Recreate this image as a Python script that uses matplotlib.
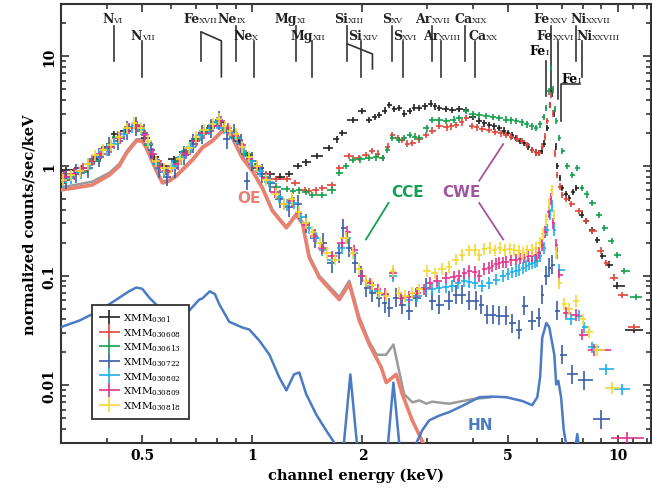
import numpy as np
import matplotlib
matplotlib.use('Agg')
import matplotlib.pyplot as plt
import matplotlib.transforms as mtransforms
from matplotlib.ticker import FixedLocator, FixedFormatter, NullFormatter
from matplotlib.container import ErrorbarContainer
from matplotlib.legend_handler import HandlerErrorbar

plt.rcParams['font.family'] = 'DejaVu Serif'
plt.rcParams['mathtext.fontset'] = 'dejavuserif'

# ---- spectra: (channel energy keV, normalized counts/sec/keV) ----
xmm0301 = [(0.31, 0.92), (0.34, 0.95), (0.37, 1.15), (0.40, 1.5), (0.42, 1.95), (0.45, 2.1), (0.48, 2.3),
           (0.51, 1.8), (0.54, 1.2), (0.57, 1.0), (0.61, 1.15), (0.65, 1.35), (0.69, 1.7), (0.73, 2.0),
           (0.77, 2.3), (0.82, 2.5), (0.87, 2.1), (0.92, 1.7), (0.97, 1.25), (1.04, 0.96), (1.12, 0.84),
           (1.19, 0.80), (1.26, 0.85), (1.33, 1.0), (1.40, 1.08), (1.50, 1.23), (1.62, 1.46), (1.70, 1.75),
           (1.76, 2.0), (1.88, 2.62), (2.0, 3.16), (2.09, 2.62), (2.16, 2.8), (2.22, 2.91), (2.30, 3.2),
           (2.37, 3.58), (2.44, 3.3), (2.52, 3.37), (2.60, 3.0), (2.69, 3.16), (2.77, 3.4), (2.86, 3.37),
           (2.96, 3.5), (3.07, 3.7), (3.16, 3.5), (3.24, 3.37), (3.38, 3.3), (3.52, 3.23), (3.68, 3.3),
           (3.84, 3.23), (4.0, 2.8), (4.17, 2.56), (4.30, 2.45), (4.44, 2.36), (4.58, 2.3), (4.73, 2.22),
           (4.87, 2.1), (5.0, 2.0), (5.13, 1.9), (5.26, 1.80), (5.40, 1.7), (5.54, 1.62), (5.68, 1.5),
           (5.82, 1.40), (5.95, 1.33), (6.08, 1.31), (6.18, 1.38), (6.28, 1.6), (6.40, 2.22), (6.50, 3.6),
           (6.58, 4.6), (6.66, 3.0), (6.74, 1.5), (6.82, 1.0), (6.92, 0.78), (7.03, 0.63), (7.20, 0.55),
           (7.35, 0.51), (7.52, 0.58), (7.68, 0.63), (7.97, 0.36), (8.18, 0.316), (8.49, 0.26),
           (8.76, 0.212), (9.04, 0.152), (9.45, 0.126), (9.9, 0.081), (11.06, 0.032)]

xmm030608 = [(0.31, 0.85), (0.34, 0.9), (0.37, 1.1), (0.40, 1.45), (0.43, 1.8), (0.46, 2.2), (0.49, 2.25),
             (0.52, 1.6), (0.55, 1.1), (0.58, 0.9), (0.62, 1.1), (0.66, 1.35), (0.70, 1.75), (0.75, 2.1),
             (0.80, 2.45), (0.85, 2.2), (0.90, 1.85), (0.96, 1.3), (1.02, 1.0), (1.09, 0.85), (1.16, 0.76),
             (1.24, 0.76), (1.31, 0.7), (1.39, 0.605), (1.43, 0.593), (1.49, 0.60), (1.55, 0.63),
             (1.65, 0.672), (1.73, 0.96), (1.84, 1.23), (1.96, 1.18), (2.04, 1.25), (2.13, 1.37),
             (2.20, 1.3), (2.27, 1.18), (2.35, 1.5), (2.41, 1.91), (2.50, 1.8), (2.57, 1.72), (2.65, 1.6),
             (2.74, 1.62), (2.85, 1.75), (2.99, 1.91), (3.1, 2.1), (3.24, 2.31), (3.4, 2.25), (3.5, 2.3),
             (3.61, 2.36), (3.75, 2.5), (3.84, 2.73), (3.99, 2.31), (4.1, 2.25), (4.25, 2.18), (4.44, 2.12),
             (4.6, 2.05), (4.77, 1.98), (4.94, 1.91), (5.1, 1.85), (5.28, 1.78), (5.47, 1.69), (5.65, 1.55),
             (5.82, 1.40), (5.95, 1.33), (6.08, 1.31), (6.2, 1.5), (6.30, 1.85), (6.40, 2.56), (6.50, 3.6),
             (6.56, 4.42), (6.64, 3.0), (6.72, 1.3), (6.80, 0.83), (6.92, 0.65), (7.03, 0.545), (7.2, 0.5),
             (7.44, 0.45), (7.82, 0.39), (8.18, 0.316), (8.49, 0.256), (8.99, 0.169), (9.27, 0.131),
             (9.75, 0.096), (10.25, 0.067), (11.06, 0.034)]

xmm030613 = [(0.31, 0.8), (0.34, 0.88), (0.37, 1.12), (0.40, 1.5), (0.43, 1.85), (0.46, 2.25), (0.49, 2.2),
             (0.52, 1.55), (0.55, 1.05), (0.58, 0.88), (0.62, 1.12), (0.66, 1.38), (0.70, 1.75), (0.75, 2.1),
             (0.80, 2.5), (0.85, 2.15), (0.90, 1.8), (0.96, 1.28), (1.02, 1.0), (1.09, 0.8), (1.16, 0.65),
             (1.24, 0.62), (1.29, 0.593), (1.34, 0.6), (1.40, 0.58), (1.46, 0.545), (1.55, 0.545),
             (1.65, 0.6), (1.73, 0.864), (1.80, 1.0), (1.88, 1.13), (1.97, 1.15), (2.09, 1.18), (2.18, 1.2),
             (2.27, 1.18), (2.34, 1.4), (2.41, 1.80), (2.52, 1.72), (2.60, 1.8), (2.69, 1.91), (2.78, 1.85),
             (2.86, 1.80), (3.0, 2.2), (3.1, 2.62), (3.24, 2.6), (3.39, 2.56), (3.55, 2.65), (3.68, 2.73),
             (3.84, 3.16), (4.0, 2.95), (4.17, 2.91), (4.35, 2.85), (4.55, 2.8), (4.73, 2.73), (4.95, 2.65),
             (5.1, 2.6), (5.26, 2.56), (5.45, 2.5), (5.62, 2.4), (5.8, 2.3), (5.97, 2.22), (6.12, 2.4),
             (6.25, 2.8), (6.36, 3.37), (6.45, 4.8), (6.56, 7.8), (6.64, 5.0), (6.72, 3.3), (6.77, 2.56),
             (6.9, 1.8), (7.03, 1.37), (7.25, 1.0), (7.49, 0.83), (7.73, 0.96), (7.97, 0.63), (8.2, 0.55),
             (8.49, 0.46), (8.88, 0.358), (9.15, 0.273), (9.63, 0.208), (9.9, 0.155), (10.4, 0.11),
             (11.2, 0.064)]

xmm030722 = [(0.31, 0.75), (0.33, 0.85), (0.355, 0.95), (0.38, 1.2), (0.405, 1.5), (0.43, 1.7), (0.455, 2.1),
             (0.48, 2.3), (0.505, 2.0), (0.53, 1.4), (0.555, 0.95), (0.585, 0.8), (0.615, 0.95), (0.65, 1.25),
             (0.69, 1.6), (0.73, 1.95), (0.77, 2.2), (0.81, 2.6), (0.85, 1.75), (0.89, 2.0), (0.93, 1.6),
             (0.97, 0.73), (1.0, 1.1), (1.06, 0.85), (1.12, 0.7), (1.19, 0.5), (1.26, 0.42), (1.33, 0.45),
             (1.40, 0.3), (1.48, 0.22), (1.56, 0.2), (1.65, 0.13), (1.72, 0.16), (1.77, 0.27), (1.84, 0.18),
             (1.91, 0.13), (1.98, 0.1), (2.05, 0.078), (2.13, 0.07), (2.22, 0.063), (2.30, 0.056),
             (2.37, 0.0512), (2.47, 0.063), (2.57, 0.0545), (2.685, 0.048), (2.81, 0.063), (2.99, 0.078),
             (3.10, 0.059), (3.24, 0.0545), (3.45, 0.059), (3.61, 0.067), (3.75, 0.067), (3.92, 0.059),
             (4.09, 0.059), (4.22, 0.0545), (4.39, 0.044), (4.56, 0.044), (4.73, 0.043), (4.94, 0.043),
             (5.13, 0.037), (5.37, 0.032), (5.54, 0.053), (5.82, 0.039), (6.08, 0.0415), (6.2, 0.067),
             (6.36, 0.10), (6.48, 0.118), (6.60, 0.126), (6.81, 0.048), (7.03, 0.019), (7.49, 0.0126),
             (8.08, 0.0111), (8.99, 0.0049)]

xmm030802 = [(0.303, 0.72), (0.32, 0.78), (0.34, 0.86), (0.36, 1.05), (0.38, 1.25), (0.40, 1.4), (0.42, 1.6),
             (0.445, 1.95), (0.47, 2.25), (0.495, 2.15), (0.52, 1.6), (0.545, 1.05), (0.575, 0.88),
             (0.605, 1.0), (0.64, 1.2), (0.68, 1.5), (0.72, 1.9), (0.76, 2.15), (0.80, 2.45), (0.835, 2.2),
             (0.87, 2.0), (0.91, 1.8), (0.95, 1.35), (0.99, 1.1), (1.05, 0.9), (1.11, 0.72), (1.18, 0.52),
             (1.24, 0.44), (1.30, 0.46), (1.36, 0.34), (1.43, 0.27), (1.49, 0.22), (1.55, 0.17), (1.65, 0.14),
             (1.76, 0.18), (1.82, 0.22), (1.9, 0.16), (2.0, 0.1), (2.1, 0.08), (2.2, 0.072), (2.3, 0.066),
             (2.43, 0.1), (2.55, 0.062), (2.68, 0.06), (2.82, 0.065), (2.99, 0.075), (3.1, 0.076),
             (3.24, 0.078), (3.38, 0.079), (3.52, 0.081), (3.66, 0.085), (3.8, 0.09), (3.92, 0.088),
             (4.05, 0.085), (4.25, 0.081), (4.44, 0.086), (4.64, 0.092), (4.85, 0.1), (5.0, 0.103),
             (5.13, 0.107), (5.25, 0.11), (5.37, 0.113), (5.5, 0.118), (5.61, 0.123), (5.72, 0.127),
             (5.82, 0.131), (5.92, 0.134), (6.01, 0.137), (6.12, 0.15), (6.28, 0.18), (6.4, 0.26), (6.5, 0.36),
             (6.6, 0.43), (6.69, 0.26), (6.8, 0.16), (6.9, 0.113), (7.44, 0.040), (7.82, 0.0433),
             (8.08, 0.0337), (8.49, 0.0222), (9.27, 0.014), (10.25, 0.0092)]

xmm030809 = [(0.305, 0.8), (0.325, 0.85), (0.345, 0.95), (0.365, 1.12), (0.385, 1.3), (0.41, 1.5), (0.435, 1.8),
             (0.46, 2.2), (0.485, 2.3), (0.51, 1.9), (0.535, 1.3), (0.56, 0.98), (0.59, 0.9), (0.625, 1.05),
             (0.66, 1.3), (0.70, 1.7), (0.74, 2.0), (0.78, 2.3), (0.82, 2.55), (0.86, 2.2), (0.90, 1.9),
             (0.94, 1.55), (0.98, 1.15), (1.03, 0.98), (1.09, 0.78), (1.15, 0.58), (1.22, 0.45), (1.28, 0.48),
             (1.34, 0.37), (1.40, 0.29), (1.47, 0.23), (1.55, 0.18), (1.65, 0.15), (1.76, 0.2), (1.82, 0.25),
             (1.9, 0.17), (2.0, 0.1), (2.1, 0.085), (2.2, 0.075), (2.3, 0.068), (2.43, 0.105), (2.55, 0.063),
             (2.68, 0.064), (2.82, 0.07), (2.95, 0.075), (3.05, 0.086), (3.2, 0.09), (3.39, 0.096),
             (3.55, 0.098), (3.68, 0.10), (3.8, 0.105), (3.92, 0.111), (4.05, 0.108), (4.17, 0.10),
             (4.3, 0.115), (4.44, 0.118), (4.53, 0.123), (4.64, 0.128), (4.73, 0.131), (4.85, 0.132),
             (4.94, 0.133), (5.1, 0.138), (5.26, 0.14), (5.4, 0.143), (5.54, 0.146), (5.68, 0.15),
             (5.82, 0.152), (5.95, 0.155), (6.08, 0.162), (6.2, 0.19), (6.32, 0.25), (6.45, 0.38), (6.55, 0.5),
             (6.65, 0.3), (6.77, 0.19), (6.9, 0.102), (7.21, 0.046), (7.68, 0.044), (7.97, 0.029),
             (8.6, 0.021), (10.6, 0.0033)]

xmm030818 = [(0.303, 0.75), (0.32, 0.82), (0.337, 0.9), (0.355, 1.05), (0.372, 1.25), (0.39, 1.4), (0.41, 1.55),
             (0.433, 1.85), (0.455, 2.2), (0.475, 2.45), (0.495, 2.2), (0.52, 1.7), (0.547, 1.1), (0.575, 0.95),
             (0.60, 0.95), (0.635, 1.15), (0.67, 1.45), (0.703, 1.85), (0.74, 2.15), (0.78, 2.4), (0.81, 2.7),
             (0.84, 2.3), (0.87, 2.1), (0.904, 1.95), (0.94, 1.5), (0.98, 1.2), (1.03, 1.0), (1.09, 0.75),
             (1.16, 0.56), (1.22, 0.45), (1.28, 0.5), (1.34, 0.38), (1.40, 0.3), (1.46, 0.25), (1.53, 0.2),
             (1.6, 0.16), (1.68, 0.14), (1.8, 0.22), (1.88, 0.16), (1.96, 0.115), (2.05, 0.09), (2.13, 0.083),
             (2.22, 0.07), (2.32, 0.065), (2.43, 0.11), (2.52, 0.07), (2.62, 0.065), (2.74, 0.07),
             (2.86, 0.075), (3.0, 0.11), (3.15, 0.105), (3.3, 0.115), (3.45, 0.12), (3.6, 0.14), (3.75, 0.155),
             (3.9, 0.17), (4.05, 0.172), (4.17, 0.155), (4.3, 0.175), (4.45, 0.18), (4.6, 0.17), (4.75, 0.18),
             (4.9, 0.172), (5.05, 0.175), (5.2, 0.172), (5.35, 0.168), (5.5, 0.162), (5.65, 0.17),
             (5.8, 0.172), (5.95, 0.18), (6.1, 0.2), (6.24, 0.24), (6.36, 0.32), (6.48, 0.45), (6.58, 0.6),
             (6.68, 0.36), (6.77, 0.16), (6.9, 0.085), (7.1, 0.055), (7.35, 0.05), (7.68, 0.059), (8.0, 0.04),
             (8.33, 0.0305), (8.76, 0.021), (9.63, 0.0094)]

# ---- model curves ----
oe_model = [(0.30, 0.605), (0.326, 0.63), (0.365, 0.672), (0.407, 0.828), (0.433, 1.0), (0.453, 1.31),
            (0.482, 1.69), (0.50, 1.69), (0.513, 1.46), (0.547, 0.90), (0.568, 0.70), (0.593, 0.731),
            (0.620, 0.81), (0.686, 1.13), (0.730, 1.46), (0.778, 1.69), (0.828, 2.08), (0.855, 2.08),
            (0.882, 1.80), (0.939, 1.18), (1.0, 0.90), (1.065, 0.63), (1.134, 0.39), (1.239, 0.273),
            (1.319, 0.358), (1.37, 0.30), (1.431, 0.146), (1.524, 0.096), (1.729, 0.0605), (1.841, 0.0846),
            (1.96, 0.039), (2.088, 0.0236), (2.25, 0.0146), (2.323, 0.0106), (2.473, 0.0126),
            (2.57, 0.0083), (2.736, 0.0048), (2.914, 0.0031), (3.0, 0.0025)]

total_model = [(0.30, 0.64), (0.326, 0.67), (0.365, 0.72), (0.407, 0.87), (0.433, 1.05), (0.453, 1.36),
               (0.482, 1.75), (0.50, 1.75), (0.513, 1.5), (0.547, 0.93), (0.568, 0.72), (0.593, 0.75),
               (0.62, 0.83), (0.686, 1.16), (0.73, 1.5), (0.778, 1.73), (0.828, 2.12), (0.855, 2.12),
               (0.882, 1.84), (0.939, 1.21), (1.0, 0.92), (1.065, 0.65), (1.134, 0.40), (1.239, 0.28),
               (1.319, 0.37), (1.37, 0.31), (1.431, 0.152), (1.524, 0.10), (1.729, 0.064), (1.841, 0.09),
               (1.96, 0.042), (2.088, 0.025), (2.19, 0.019), (2.32, 0.019), (2.43, 0.0236), (2.52, 0.0134),
               (2.6, 0.0083), (2.74, 0.0070), (2.86, 0.0073), (2.99, 0.0068), (3.10, 0.0071),
               (3.45, 0.0068), (4.0, 0.0075), (4.5, 0.0078)]

hn_model = [(0.30, 0.034), (0.337, 0.039), (0.382, 0.048), (0.433, 0.063), (0.46, 0.072), (0.482, 0.078),
            (0.50, 0.076), (0.523, 0.063), (0.557, 0.051), (0.58, 0.044), (0.62, 0.040), (0.66, 0.045),
            (0.716, 0.0605), (0.73, 0.062), (0.765, 0.072), (0.79, 0.068), (0.813, 0.0545), (0.865, 0.038),
            (0.939, 0.0337), (0.981, 0.0323), (1.045, 0.0256), (1.113, 0.0191), (1.185, 0.0118),
            (1.239, 0.009), (1.30, 0.0126), (1.344, 0.0131), (1.404, 0.0083), (1.496, 0.0054),
            (1.59, 0.0039), (1.675, 0.0030), (1.73, 0.0024), (1.78, 0.0030), (1.853, 0.0126), (1.93, 0.0030),
            (1.96, 0.0024), (2.30, 0.0024), (2.35, 0.0030), (2.43, 0.0106), (2.52, 0.0030), (2.6, 0.0024),
            (2.78, 0.0024), (2.81, 0.0030), (2.914, 0.0039), (3.045, 0.0048), (3.243, 0.0053),
            (3.45, 0.0057), (3.75, 0.0065), (4.17, 0.0078), (4.53, 0.0079), (4.94, 0.0078), (5.47, 0.0072),
            (5.82, 0.0066), (6.01, 0.0078), (6.12, 0.012), (6.2, 0.0273), (6.36, 0.037), (6.48, 0.034),
            (6.69, 0.019), (6.77, 0.0102), (6.86, 0.011), (6.98, 0.0078), (7.10, 0.0039), (7.21, 0.0029),
            (7.6, 0.0024), (7.73, 0.0036), (7.85, 0.0024), (8.0, 0.0020)]

# ---- line identifications: element, ion, line energy, label anchor energy, row ----
ion_lines = [('N', 'VI', 0.42, 0.417, 0), ('N', 'VII', 0.50, 0.50, 1),
             ('Fe', 'XVII', 0.726, 0.716, 0), ('Ne', 'IX', 0.90, 0.905, 0), ('Ne', 'X', 1.01, 1.0, 1),
             ('Mg', 'XI', 1.32, 1.327, 0), ('Mg', 'XII', 1.46, 1.467, 1),
             ('Si', 'XIII', 1.82, 1.83, 0), ('Si', 'XIV', 1.98, 2.0, 1),
             ('S', 'XV', 2.41, 2.40, 0), ('S', 'XVI', 2.58, 2.57, 1),
             ('Ar', 'XVII', 3.09, 3.09, 0), ('Ar', 'XVIII', 3.28, 3.24, 1),
             ('Ca', 'XIX', 3.82, 3.99, 0), ('Ca', 'XX', 4.07, 4.36, 1),
             ('Fe', 'XXV', 6.56, 6.50, 0), ('Fe', 'XXVI', 6.85, 6.63, 1),
             ('Ni', 'XXVII', 7.68, 8.18, 0), ('Ni', 'XXVIII', 7.97, 8.49, 1)]

series = [('XMM', '0301', xmm0301, '#222222', 0.07),
          ('XMM', '030608', xmm030608, '#e0453a', 0.07),
          ('XMM', '030613', xmm030613, '#12a04a', 0.07),
          ('XMM', '030722', xmm030722, '#3a5da8', 0.22),
          ('XMM', '030802', xmm030802, '#1ab0e8', 0.13),
          ('XMM', '030809', xmm030809, '#e0358f', 0.13),
          ('XMM', '030818', xmm030818, '#f3d834', 0.13)]


def bin_halfwidths(e):
    # contiguous channels: edges halfway (in log) between neighbouring points
    le = np.log10(e)
    mid = (le[1:] + le[:-1]) / 2
    lo = np.concatenate([[2 * le[0] - mid[0]], mid])
    hi = np.concatenate([mid, [2 * le[-1] - mid[-1]]])
    return e - 10 ** lo, 10 ** hi - e


fig = plt.figure(figsize=(6.52, 4.89), dpi=100)
ax = fig.add_axes([0.0936, 0.0926, 0.905, 0.8972])
ax.set_xscale('log')
ax.set_yscale('log')
ax.set_xlim(0.3, 12.3)
ax.set_ylim(0.003, 30)

e, v = np.array(total_model).T
ax.plot(e, v, color='#9a9a9a', lw=1.8, zorder=2)
e, v = np.array(oe_model).T
ax.plot(e, v, color='#ea8070', lw=2.6, zorder=3)

handles = []
for name, sub, data, col, rel in series:
    e, v = np.array(data).T
    xl, xh = bin_halfwidths(e)
    h = ax.errorbar(e, v, xerr=[xl, xh], yerr=[v * rel / (1 + rel), v * rel],
                    fmt='none', ecolor=col, elinewidth=1.2, capsize=0, zorder=4,
                    label=name + r'$_{\mathrm{' + sub + '}}$')
    handles.append(h)

e, v = np.array(hn_model).T
ax.plot(e, v, color='#4a7bc4', lw=1.8, zorder=5)

# component labels
ax.text(0.981, 0.512, 'OE', color='#ea8070', family='DejaVu Sans', weight='bold', fontsize=11,
        ha='center', va='center', zorder=6)
ax.text(2.65, 0.58, 'CCE', color='#14a050', family='DejaVu Sans', weight='bold', fontsize=11,
        ha='center', va='center')
ax.text(3.72, 0.58, 'CWE', color='#a0569f', family='DejaVu Sans', weight='bold', fontsize=11,
        ha='center', va='center')
ax.text(4.2, 0.0044, 'HN', color='#4a7bc4', family='DejaVu Sans', weight='bold', fontsize=11,
        ha='center', va='center')
ax.plot([2.045, 2.357], [0.214, 0.461], color='#14a050', lw=1.3)
ax.plot([4.17, 4.85], [0.735, 1.585], color='#a0569f', lw=1.3)
ax.plot([4.17, 4.85], [0.46, 0.214], color='#a0569f', lw=1.3)

# line identifications along the top
trans = mtransforms.blended_transform_factory(ax.transData, ax.transAxes)
row_text = [0.959, 0.920]
row_line = [(0.950, 0.870), (0.916, 0.834)]
lc = '#333333'
el_size, ion_size = 9, 6
for el, ion, e_line, e_lab, row in ion_lines:
    ax.text(e_lab, row_text[row], el, transform=trans, ha='right', va='baseline',
            fontsize=el_size, weight='bold', color='#222222')
    ax.text(e_lab, row_text[row], ion, transform=trans, ha='left', va='baseline',
            fontsize=ion_size, color='#222222')
    y0, y1 = row_line[row]
    if el == 'Fe' and ion == 'XVII':
        ax.plot([e_line, e_line], [0.936, 0.870], transform=trans, color=lc, lw=1.2)
        ax.plot([e_line, 0.823, 0.823], [0.936, 0.916, 0.834], transform=trans, color=lc, lw=1.2)
        continue
    if el == 'Si' and ion == 'XIII':
        ax.plot([e_line, 2.13, 2.13], [0.909, 0.886, 0.852], transform=trans, color=lc, lw=1.2)
    if el == 'Fe' and ion == 'XXV':
        y1 = 0.80
    if el == 'Fe' and ion == 'XXVI':
        y1 = 0.783
    ax.plot([e_line, e_line], [y0, y1], transform=trans, color=lc, lw=1.2)

# neutral iron K alpha / K beta
ax.text(6.32, 0.886, 'Fe', transform=trans, ha='right', va='baseline', fontsize=el_size, weight='bold')
ax.text(6.32, 0.886, 'I', transform=trans, ha='left', va='baseline', fontsize=ion_size)
ax.plot([6.36, 6.36], [0.870, 0.790], transform=trans, color=lc, lw=1.2)
ax.text(7.73, 0.822, 'Fe', transform=trans, ha='right', va='baseline', fontsize=el_size, weight='bold')
ax.text(7.73, 0.822, 'I', transform=trans, ha='left', va='baseline', fontsize=ion_size)
ax.plot([7.85, 6.98, 6.98], [0.817, 0.817, 0.733], transform=trans, color=lc, lw=1.2)

# axes cosmetics
xmaj = [0.5, 1, 2, 5, 10]
ax.xaxis.set_major_locator(FixedLocator(xmaj))
ax.xaxis.set_major_formatter(FixedFormatter(['0.5', '1', '2', '5', '10']))
ax.xaxis.set_minor_locator(FixedLocator([0.3, 0.4, 0.6, 0.7, 0.8, 0.9, 3, 4, 6, 7, 8, 9, 11, 12]))
ax.xaxis.set_minor_formatter(NullFormatter())
ax.yaxis.set_major_locator(FixedLocator([0.01, 0.1, 1, 10]))
ax.yaxis.set_major_formatter(FixedFormatter(['0.01', '0.1', '1', '10']))
ax.yaxis.set_minor_locator(FixedLocator([m * 10.0 ** k for k in range(-3, 2) for m in range(2, 10)]))
ax.yaxis.set_minor_formatter(NullFormatter())
ax.tick_params(which='both', direction='in', top=True, right=True, color='#333333', width=1.2)
ax.tick_params(which='major', length=6, labelsize=10)
ax.tick_params(which='minor', length=3.5)
ax.tick_params(axis='y', labelrotation=90)
for lab in ax.get_yticklabels():
    lab.set_va('center')
for lab in ax.get_xticklabels() + ax.get_yticklabels():
    lab.set_fontweight('bold')
for sp in ax.spines.values():
    sp.set_color('#333333')
    sp.set_linewidth(1.5)

ax.set_xlabel('channel energy (keV)', fontsize=10.5, weight='bold', labelpad=4)
ax.set_ylabel('normalized counts/sec/keV', fontsize=10.5, weight='bold', labelpad=4)

leg = ax.legend(handles=handles, loc='lower left', bbox_to_anchor=(0.043, 0.058), fontsize=7.5,
                frameon=True, fancybox=False, edgecolor='#333333', framealpha=1,
                handlelength=2.0, handletextpad=0.35, labelspacing=0.2, borderpad=0.7,
                handler_map={ErrorbarContainer: HandlerErrorbar(xerr_size=1.0, yerr_size=0.7)})
leg.get_frame().set_linewidth(1.3)
leg.set_zorder(10)
# nudge the box down a few pixels so it sits just above the bottom frame
leg.set_bbox_to_anchor((0.043, 0.042), transform=ax.transAxes)

fig.savefig('out.png', dpi=100)
